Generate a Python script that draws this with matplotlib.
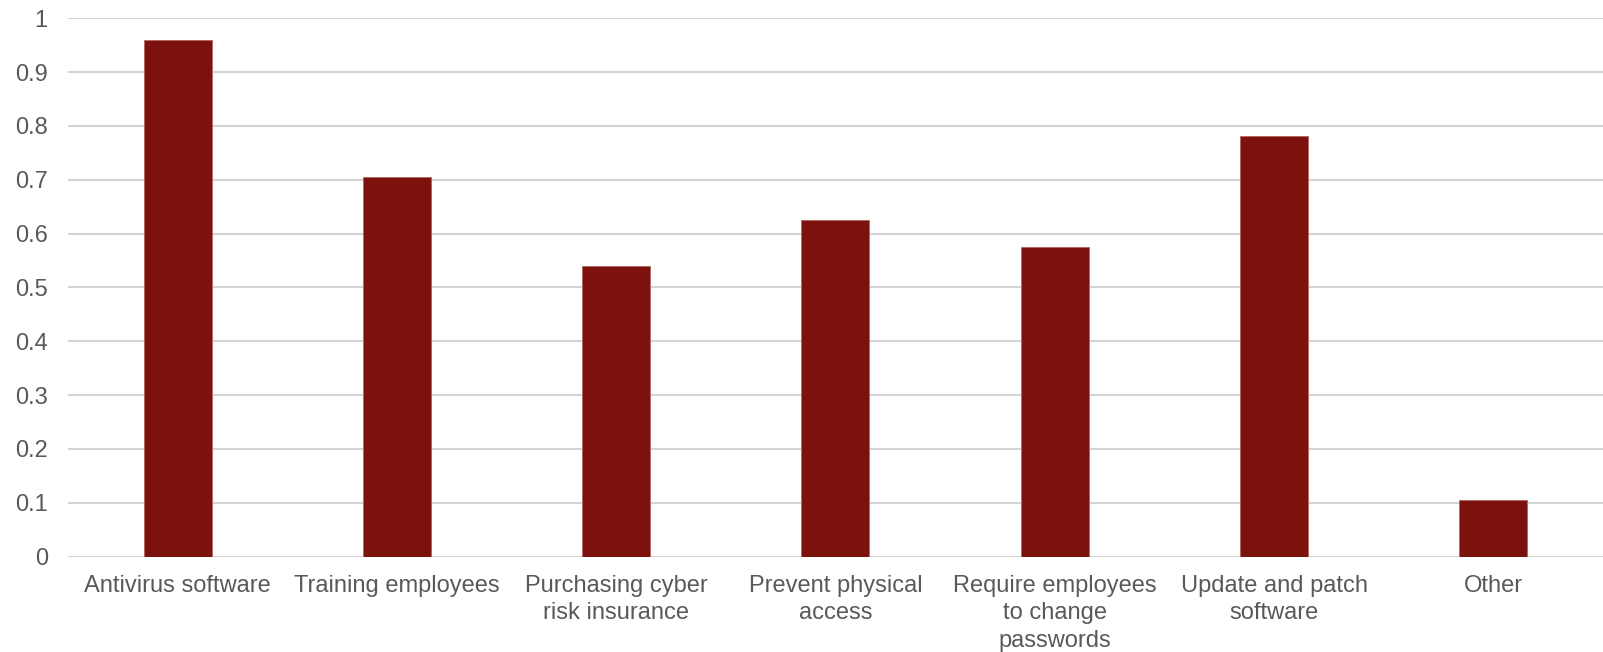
import numpy as np
import matplotlib.pyplot as plt

plt.rcParams['font.family'] = ['Liberation Sans', 'DejaVu Sans']

categories = ["Antivirus software", "Training employees", "Purchasing cyber\nrisk insurance",
              "Prevent physical\naccess", "Require employees\nto change\npasswords",
              "Update and patch\nsoftware", "Other"]
values = [0.960, 0.706, 0.539, 0.626, 0.576, 0.781, 0.105]
yticks = [0, 0.1, 0.2, 0.3, 0.4, 0.5, 0.6, 0.7, 0.8, 0.9, 1]
ytick_labels = ["0", "0.1", "0.2", "0.3", "0.4", "0.5", "0.6", "0.7", "0.8", "0.9", "1"]

fig = plt.figure(figsize=(16.03, 6.52), dpi=100)
ax = fig.add_axes([0.0424, 0.1462, 0.9576, 0.8258])

x = np.arange(len(categories))
ax.bar(x, values, width=0.31, color='#7b120e', edgecolor='#b56a66', linewidth=0.7, zorder=3)

ax.set_xlim(-0.5, len(categories) - 0.5)
ax.set_ylim(0, 1)
ax.set_yticks(yticks)
ax.set_yticklabels(ytick_labels)
ax.set_xticks(x)
ax.set_xticklabels(categories, linespacing=1.32)

ax.yaxis.grid(True, color='#d4d4d4', linewidth=1.5, zorder=0)
ax.set_axisbelow(True)
for s in ax.spines.values():
    s.set_visible(False)
ax.tick_params(axis='both', length=0, labelsize=17, labelcolor='#595959')
ax.tick_params(axis='y', pad=14.5)
ax.tick_params(axis='x', pad=13)

fig.savefig("out.png", dpi=100)
